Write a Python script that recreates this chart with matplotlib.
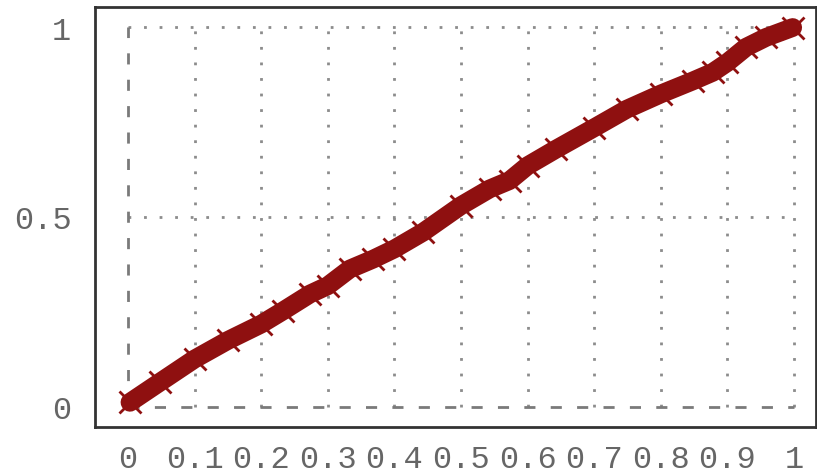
import matplotlib
matplotlib.use("Agg")
import matplotlib.pyplot as plt

# values (centre of the band of markers)
x_vals = [0.003, 0.048, 0.100, 0.150, 0.200, 0.233, 0.273, 0.300, 0.333, 0.368,
          0.400, 0.443, 0.500, 0.543, 0.573, 0.600, 0.643, 0.700, 0.749, 0.800,
          0.849, 0.878, 0.900, 0.928, 0.958, 0.998]
y_vals = [0.012, 0.065, 0.126, 0.175, 0.218, 0.253, 0.297, 0.319, 0.363, 0.389,
          0.416, 0.460, 0.530, 0.574, 0.596, 0.635, 0.679, 0.735, 0.784, 0.824,
          0.859, 0.881, 0.907, 0.947, 0.973, 0.999]

x_ticks = [0, 0.1, 0.2, 0.3, 0.4, 0.5, 0.6, 0.7, 0.8, 0.9, 1]
x_tick_labels = ["0", "0.1", "0.2", "0.3", "0.4", "0.5", "0.6", "0.7", "0.8", "0.9", "1"]
y_ticks = [0, 0.5, 1]
y_tick_labels = ["0", "0.5", "1"]

fig = plt.figure(figsize=(8.17, 4.77), dpi=100)
ax = fig.add_axes([95 / 817, (477 - 428) / 477, (816 - 95) / 817, 420 / 477])
ax.set_xlim(-0.0495, 1.033)
ax.set_ylim(-0.053, 1.053)

grid_col = "#8c8c8c"
for xt in x_ticks[1:]:
    ax.vlines(xt, 0, 1, colors=grid_col, linestyles=(0, (1, 4.6)), linewidth=2, zorder=1)
for yt in y_ticks[1:]:
    ax.hlines(yt, 0, 1, colors=grid_col, linestyles=(0, (1, 4.6)), linewidth=2, zorder=1)
ax.vlines(0, 0, 1, colors="#7a7a7a", linestyles=(0, (4, 5.5)), linewidth=2, zorder=1)
ax.hlines(0, 0, 1, colors="#7a7a7a", linestyles=(0, (4, 5.5)), linewidth=2, zorder=1)

red = "#8f1010"
ax.plot(x_vals, y_vals, color=red, linewidth=13.5, solid_capstyle="round",
        solid_joinstyle="round", zorder=3)
ax.plot(x_vals, y_vals, linestyle="none", marker="x", markersize=16,
        markeredgewidth=2, color=red, zorder=4)

ax.set_xticks(x_ticks)
ax.set_xticklabels(x_tick_labels)
ax.set_yticks(y_ticks)
ax.set_yticklabels(y_tick_labels)
ax.tick_params(length=0, labelsize=23, labelcolor="#666666")
ax.tick_params(axis="x", pad=12)
ax.tick_params(axis="y", pad=17)
for lab in ax.get_xticklabels() + ax.get_yticklabels():
    lab.set_family("Liberation Mono")

for s in ax.spines.values():
    s.set_color("#333333")
    s.set_linewidth(2)

fig.savefig("out.png", dpi=100)
